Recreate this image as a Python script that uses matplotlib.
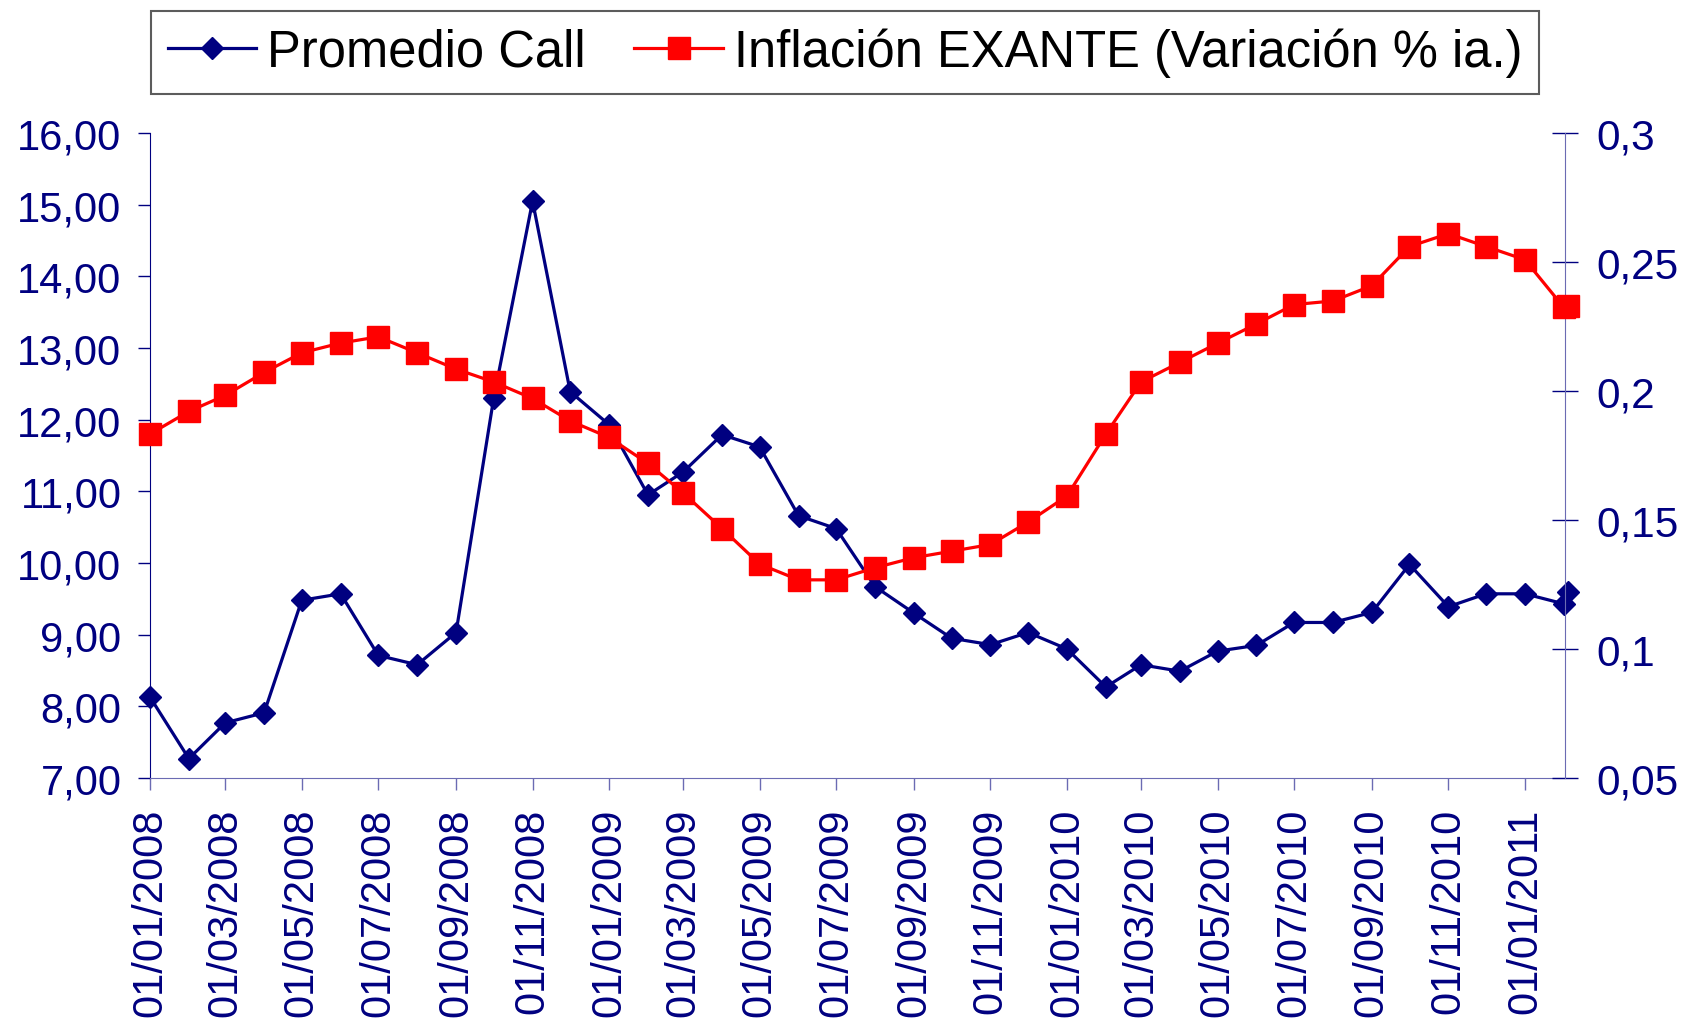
import matplotlib
matplotlib.use('Agg')
import matplotlib.pyplot as plt
import matplotlib.dates as mdates
from matplotlib.ticker import FuncFormatter, MultipleLocator
import pandas as pd

plt.rcParams['font.family'] = ['Liberation Sans', 'DejaVu Sans']

# monthly observations, two readings in the last month
fechas = [
    '2008-01-01', '2008-02-01', '2008-03-01', '2008-04-01', '2008-05-01', '2008-06-01',
    '2008-07-01', '2008-08-01', '2008-09-01', '2008-10-01', '2008-11-01', '2008-12-01',
    '2009-01-01', '2009-02-01', '2009-03-01', '2009-04-01', '2009-05-01', '2009-06-01',
    '2009-07-01', '2009-08-01', '2009-09-01', '2009-10-01', '2009-11-01', '2009-12-01',
    '2010-01-01', '2010-02-01', '2010-03-01', '2010-04-01', '2010-05-01', '2010-06-01',
    '2010-07-01', '2010-08-01', '2010-09-01', '2010-10-01', '2010-11-01', '2010-12-01',
    '2011-01-01', '2011-02-01', '2011-02-04',
]

promedio_call = [
    8.13, 7.27, 7.77, 7.91, 9.48, 9.57, 8.71, 8.58, 9.03, 12.30, 15.05, 12.39,
    11.93, 10.95, 11.27, 11.79, 11.62, 10.66, 10.48, 9.67, 9.30, 8.95, 8.86, 9.03,
    8.80, 8.27, 8.58, 8.49, 8.77, 8.85, 9.17, 9.17, 9.31, 9.98, 9.39, 9.57,
    9.57, 9.43, 9.60,
]

inflacion_exante = [
    0.1833, 0.1921, 0.1983, 0.2072, 0.2148, 0.2186, 0.2210, 0.2148, 0.2085, 0.2035,
    0.1971, 0.1884, 0.1820, 0.1719, 0.1605, 0.1467, 0.1329, 0.1268, 0.1268, 0.1315,
    0.1354, 0.1379, 0.1405, 0.1492, 0.1593, 0.1833, 0.2035, 0.2111, 0.2185, 0.2260,
    0.2335, 0.2349, 0.2408, 0.2560, 0.2610, 0.2560, 0.2509, 0.2324, 0.2328,
]

x = pd.to_datetime(fechas)
navy = '#000080'
spine_light = '#6b6bb3'

fig = plt.figure(figsize=(16.85, 10.2), dpi=100)
ax = fig.add_axes([0.089, 0.2363, 0.8398, 0.6323])
ax2 = ax.twinx()

l1, = ax.plot(x, promedio_call, color=navy, lw=2.3, marker='D', ms=11.5,
              mfc=navy, mec=navy, clip_on=False, zorder=3, label='Promedio Call')
l2, = ax2.plot(x, inflacion_exante, color='#ff0000', lw=2.3, marker='s', ms=16,
               mfc='#ff0000', mec='#ff0000', clip_on=False, zorder=3,
               label='Inflación EXANTE (Variación % ia.)')

ax.set_xlim(pd.Timestamp('2008-01-01'), pd.Timestamp('2011-02-02'))
ax.set_ylim(7, 16)
ax2.set_ylim(0.05, 0.3)
ax.yaxis.set_major_locator(MultipleLocator(1))
ax2.yaxis.set_major_locator(MultipleLocator(0.05))
ax.yaxis.set_major_formatter(FuncFormatter(lambda v, p: f'{v:.2f}'.replace('.', ',')))
ax2.yaxis.set_major_formatter(FuncFormatter(lambda v, p: f'{v:g}'.replace('.', ',')))

ax.xaxis.set_major_locator(mdates.MonthLocator(bymonth=[1, 3, 5, 7, 9, 11]))
ax.xaxis.set_major_formatter(mdates.DateFormatter('%d/%m/%Y'))

for a in (ax, ax2):
    a.spines['top'].set_visible(False)
    a.patch.set_visible(False)
ax.spines['left'].set_color(navy)
ax.spines['bottom'].set_color(spine_light)
ax.spines['right'].set_visible(False)
ax2.spines['left'].set_visible(False)
ax2.spines['bottom'].set_visible(False)
ax2.spines['right'].set_color(spine_light)

ax.tick_params(axis='y', direction='out', length=8.5, width=1, color=navy,
               labelcolor=navy, labelsize=30, pad=12)
ax.tick_params(axis='x', direction='out', length=8.5, width=1, color=spine_light,
               labelcolor=navy, labelsize=30, pad=13, labelrotation=90)
ax2.tick_params(axis='y', direction='inout', length=19, width=1, color=navy,
                labelcolor=navy, labelsize=30.5, pad=13)

leg = fig.legend(handles=[l1, l2], loc='center', bbox_to_anchor=(0.5015, 0.948),
                 ncol=2, fontsize=36.5, frameon=True, fancybox=False,
                 handlelength=1.75, handletextpad=0.22, columnspacing=0.95,
                 borderpad=0.33, markerscale=0.95)
leg.get_frame().set_edgecolor('#333333')
leg.get_frame().set_linewidth(1.5)

fig.savefig('out.png', dpi=100)
